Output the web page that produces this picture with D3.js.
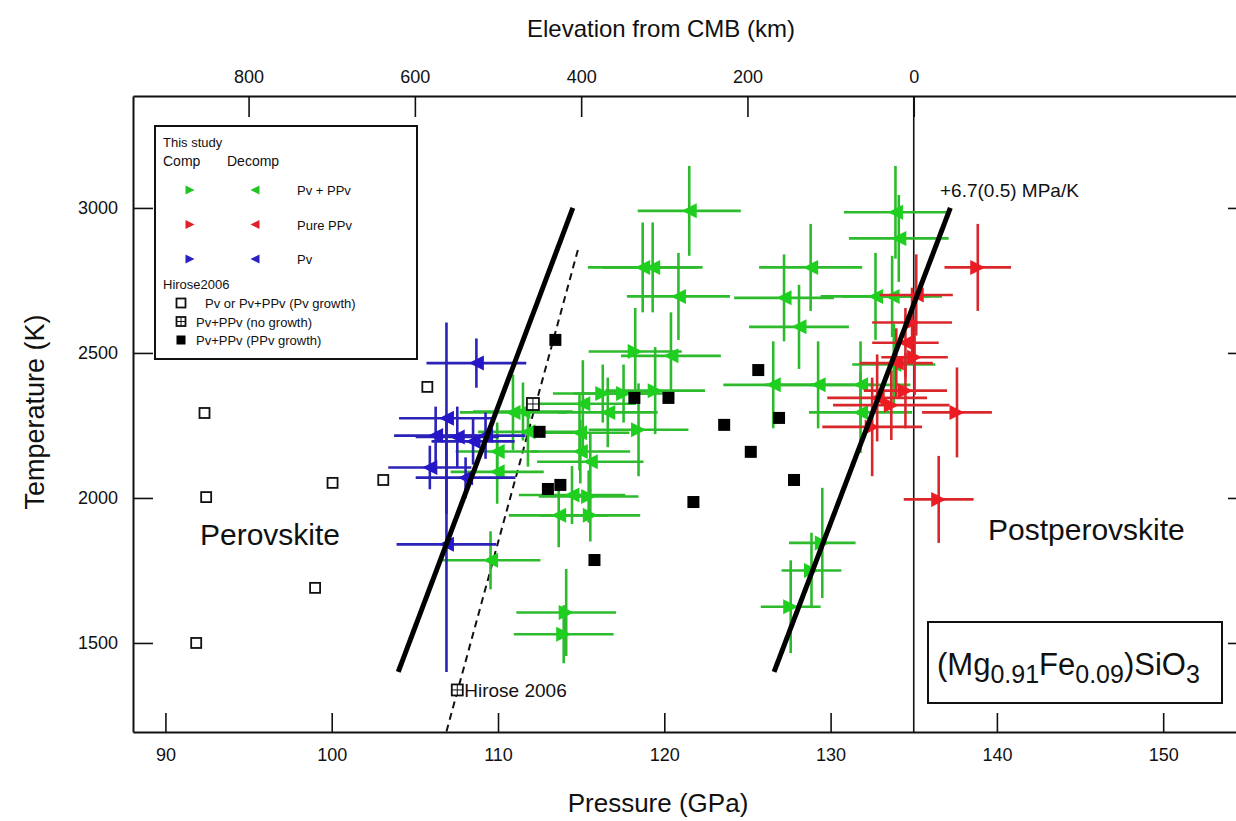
<!DOCTYPE html>
<html>
<head>
<meta charset="utf-8">
<script src="https://cdn.jsdelivr.net/npm/d3@7"></script>
<style>
  body { margin: 0; background: #fff; }
  text { font-family: "Liberation Sans", Arial, sans-serif; fill: #111; }
</style>
</head>
<body>
<div id="chart"></div>
<script>
// each row: [pressure (GPa), temperature (K), pressure error, temperature error]
var greenDecomp = [
  [121.5, 2990, 3.1, 155], [118.7, 2795, 3.3, 155], [119.3, 2795, 3.0, 155],
  [120.85, 2695, 3.1, 150], [128.8, 2795, 3.1, 150], [127.2, 2690, 3.0, 150],
  [128.1, 2590, 3.0, 145], [126.55, 2390, 3.0, 150], [129.25, 2390, 3.2, 150],
  [120.4, 2490, 3.0, 150], [133.9, 2985, 3.1, 160], [134.1, 2895, 3.0, 150],
  [132.7, 2695, 3.3, 150], [133.7, 2695, 3.0, 140], [133.8, 2460, 2.5, 140],
  [131.8, 2390, 3.0, 150], [131.8, 2295, 3.1, 140], [115.1, 2325, 3.2, 150],
  [116.6, 2295, 3.0, 120], [110.9, 2295, 3.2, 130], [111.5, 2298, 3.0, 100],
  [111.8, 2228, 3.0, 120], [114.9, 2225, 3.0, 130], [114.95, 2160, 3.0, 110],
  [115.55, 2125, 3.2, 100], [109.95, 2160, 2.5, 100], [109.95, 2090, 2.8, 110],
  [114.45, 2010, 3.2, 100], [113.65, 1940, 3.0, 110], [109.55, 1785, 3.0, 100]
];
var greenComp = [
  [118.25, 2505, 2.8, 150], [116.3, 2360, 3.0, 100], [117.55, 2360, 3.0, 100],
  [119.45, 2370, 3.0, 150], [118.45, 2235, 3.0, 160], [115.45, 2005, 3.0, 90],
  [115.55, 1940, 3.0, 90], [114.1, 1605, 3.0, 150], [113.95, 1530, 3.0, 100],
  [129.5, 1845, 2.0, 190], [128.85, 1750, 1.8, 130], [127.6, 1625, 1.8, 160]
];
var redComp = [
  [138.85, 2795, 2.0, 150], [137.6, 2295, 2.1, 155], [136.5, 1995, 2.1, 150],
  [134.9, 2605, 2.4, 120], [135.05, 2485, 2.0, 130], [134.5, 2370, 2.5, 130],
  [133.65, 2320, 3.5, 120], [132.5, 2245, 3.0, 170]
];
var redDecomp = [
  [135.15, 2700, 2.2, 140], [134.5, 2535, 2.0, 120],
  [133.95, 2465, 2.2, 120], [132.8, 2345, 3.0, 150]
];
var blueDecomp = [
  [108.7, 2465, 3.0, 85], [106.9, 2275, 2.85, 330], [106.25, 2215, 2.5, 100],
  [107.55, 2210, 2.5, 105], [108.5, 2195, 2.5, 80], [109.25, 2215, 2.4, 80],
  [105.9, 2105, 2.5, 75], [108.05, 2070, 3.0, 70], [106.9, 1840, 3.0, 440]
];

// Hirose 2006: [pressure, temperature]
var hiroseOpen = [
  [92.35, 2293], [92.45, 2003], [100.05, 2052], [103.1, 2062],
  [99.0, 1690], [91.85, 1500], [105.75, 2383]
];
var hiroseCross = [[112.1, 2324]];
var hiroseFilled = [
  [113.45, 2545], [120.25, 2345], [123.6, 2252], [125.2, 2159], [125.65, 2441],
  [126.9, 2276], [127.8, 2062], [121.75, 1986], [115.8, 1786], [113.0, 2031],
  [113.75, 2045], [112.5, 2228], [118.2, 2345]
];

// phase boundaries
var boundaryThis = [[104.0, 1400], [114.5, 3000]];
var boundaryPpv = [[126.6, 1400], [137.2, 3000]];
var boundaryHirose = [[106.9, 1195], [114.85, 2865]];
var hiroseNote = [107.55, 1338];

var pTicks = [90, 100, 110, 120, 130, 140, 150];
var elevTicks = [800, 600, 400, 200, 0];
var tTicks = [1500, 2000, 2500, 3000];

var legendRows = [
  { label: "Pv + PPv", color: "#22c322" },
  { label: "Pure PPv", color: "#e0202a" },
  { label: "Pv", color: "#2a1fc0" }
];
var hiroseRows = ["Pv or Pv+PPv (Pv growth)", "Pv+PPv (no growth)", "Pv+PPv (PPv growth)"];

var w = 1236, h = 821;
var padL = 133, padR = 1248, padT = 96, padB = 732;

var svg = d3.select("#chart").append("svg")
  .attr("width", w)
  .attr("height", h);

var x = d3.scaleLinear().domain([88.05, 155.1]).range([padL, padR]);
var y = d3.scaleLinear().domain([1193, 3386]).range([padB, padT]);
// elevation above the CMB: 20 km per GPa, zero at 135 GPa
var xe = d3.scaleLinear().domain([(135 - 88.05) * 20, (135 - 155.1) * 20]).range([padL, padR]);

svg.append("clipPath").attr("id", "clip")
  .append("rect").attr("x", padL).attr("y", padT)
  .attr("width", padR - padL).attr("height", padB - padT);

var plot = svg.append("g").attr("clip-path", "url(#clip)");

// CMB line at 135 GPa
plot.append("line")
  .attr("x1", x(135)).attr("x2", x(135))
  .attr("y1", padT).attr("y2", padB)
  .style("stroke", "#111").style("stroke-width", 1.6);

var line = d3.line()
  .x(function(d) { return x(d[0]); })
  .y(function(d) { return y(d[1]); });

plot.append("path").datum(boundaryHirose).attr("d", line)
  .style("fill", "none").style("stroke", "#111")
  .style("stroke-width", 2).style("stroke-dasharray", "7,5");

function bars(data, color) {
  var g = plot.append("g").style("stroke", color).style("stroke-width", 2.6);
  data.forEach(function(d) {
    g.append("line")
      .attr("x1", x(d[0] - d[2])).attr("x2", x(d[0] + d[2]))
      .attr("y1", y(d[1])).attr("y2", y(d[1]));
    g.append("line")
      .attr("x1", x(d[0])).attr("x2", x(d[0]))
      .attr("y1", y(d[1] - d[3])).attr("y2", y(d[1] + d[3]));
  });
}

function tri(dir, s) {
  var a = s * 0.5;
  return dir > 0
    ? "M" + (-a) + "," + (-a) + "L" + a + ",0L" + (-a) + "," + a + "Z"
    : "M" + a + "," + (-a) + "L" + (-a) + ",0L" + a + "," + a + "Z";
}

function markers(data, color, dir) {
  plot.append("g").selectAll("path")
    .data(data)
    .enter().append("path")
    .attr("transform", function(d) { return "translate(" + x(d[0]) + "," + y(d[1]) + ")"; })
    .attr("d", tri(dir, 15))
    .style("fill", color);
}

bars(greenDecomp, "#2dbb2d");
bars(greenComp, "#2dbb2d");
markers(greenDecomp, "#1fcf1f", -1);
markers(greenComp, "#1fcf1f", 1);

bars(blueDecomp, "#2b22b8");
markers(blueDecomp, "#2516c8", -1);

bars(redComp, "#d8282c");
bars(redDecomp, "#d8282c");
markers(redComp, "#ec1c24", 1);
markers(redDecomp, "#ec1c24", -1);

// thick boundaries
[boundaryThis, boundaryPpv].forEach(function(b) {
  plot.append("path").datum(b).attr("d", line)
    .style("fill", "none").style("stroke", "#000").style("stroke-width", 5);
});

function openSquare(g, cx, cy, s) {
  g.append("rect").attr("x", cx - s / 2).attr("y", cy - s / 2)
    .attr("width", s).attr("height", s)
    .style("fill", "#fff").style("stroke", "#111").style("stroke-width", 1.8);
}
function crossSquare(g, cx, cy, s) {
  openSquare(g, cx, cy, s);
  g.append("line").attr("x1", cx).attr("x2", cx).attr("y1", cy - s / 2).attr("y2", cy + s / 2)
    .style("stroke", "#111").style("stroke-width", 1);
  g.append("line").attr("x1", cx - s / 2).attr("x2", cx + s / 2).attr("y1", cy).attr("y2", cy)
    .style("stroke", "#111").style("stroke-width", 1);
}

var hg = plot.append("g");
hiroseOpen.forEach(function(d) { openSquare(hg, x(d[0]), y(d[1]), 10); });
hiroseCross.forEach(function(d) { crossSquare(hg, x(d[0]), y(d[1]), 12); });
hg.selectAll("rect.filled")
  .data(hiroseFilled)
  .enter().append("rect")
  .attr("class", "filled")
  .attr("x", function(d) { return x(d[0]) - 6; })
  .attr("y", function(d) { return y(d[1]) - 6; })
  .attr("width", 12).attr("height", 12)
  .style("fill", "#000");

crossSquare(hg, x(hiroseNote[0]), y(hiroseNote[1]), 11);
plot.append("text")
  .attr("x", x(hiroseNote[0]) + 7).attr("y", y(hiroseNote[1]) + 7)
  .style("font-size", "19px")
  .text("Hirose 2006");

// axes
var xaxis = d3.axisBottom(x).tickValues(pTicks).tickSizeInner(-19).tickSizeOuter(0).tickPadding(16);
var topaxis = d3.axisTop(xe).tickValues(elevTicks).tickSizeInner(-21).tickSizeOuter(0).tickPadding(13);
var yaxis = d3.axisLeft(y).tickValues(tTicks).tickFormat(d3.format("d"))
  .tickSizeInner(-20).tickSizeOuter(0).tickPadding(15);
var yaxisR = d3.axisRight(y).tickValues(tTicks).tickSizeInner(-20).tickSizeOuter(0).tickFormat("");

function styleAxis(g, fs) {
  g.select(".domain").style("stroke", "#111").style("stroke-width", 2);
  g.selectAll(".tick line").style("stroke", "#111").style("stroke-width", 1.6);
  g.selectAll(".tick text").style("font-size", fs).style("fill", "#111")
    .style("font-family", "'Liberation Sans', Arial, sans-serif");
}

svg.append("g").attr("transform", "translate(0," + padB + ")").call(xaxis).call(styleAxis, "18px");
svg.append("g").attr("transform", "translate(0," + padT + ")").call(topaxis).call(styleAxis, "18px");
svg.append("g").attr("transform", "translate(" + padL + ",0)").call(yaxis).call(styleAxis, "18px");
svg.append("g").attr("transform", "translate(" + padR + ",0)").call(yaxisR).call(styleAxis, "18px");

// titles
svg.append("text").attr("x", 658).attr("y", 812).attr("text-anchor", "middle")
  .style("font-size", "26px").text("Pressure (GPa)");
svg.append("text").attr("x", 661).attr("y", 37).attr("text-anchor", "middle")
  .style("font-size", "24px").text("Elevation from CMB (km)");
svg.append("text").attr("transform", "translate(44,412) rotate(-90)").attr("text-anchor", "middle")
  .style("font-size", "27px").text("Temperature (K)");

svg.append("text").attr("x", 200).attr("y", 545).style("font-size", "30px").text("Perovskite");
svg.append("text").attr("x", 988).attr("y", 540).style("font-size", "30px").text("Postperovskite");
svg.append("text").attr("x", 940).attr("y", 197).style("font-size", "19px").text("+6.7(0.5) MPa/K");

// composition box
svg.append("rect").attr("x", 928).attr("y", 622).attr("width", 294).attr("height", 81)
  .style("fill", "#fff").style("stroke", "#111").style("stroke-width", 2);
var comp = svg.append("text").attr("x", 937).attr("y", 675).style("font-size", "31px");
comp.append("tspan").text("(Mg");
comp.append("tspan").attr("dy", 8).style("font-size", "25px").text("0.91");
comp.append("tspan").attr("dy", -8).text("Fe");
comp.append("tspan").attr("dy", 8).style("font-size", "25px").text("0.09");
comp.append("tspan").attr("dy", -8).text(")SiO");
comp.append("tspan").attr("dy", 8).style("font-size", "25px").text("3");

// legend
var lg = svg.append("g");
lg.append("rect").attr("x", 155).attr("y", 126).attr("width", 262).attr("height", 233)
  .style("fill", "#fff").style("stroke", "#111").style("stroke-width", 2);
lg.append("text").attr("x", 163).attr("y", 147).style("font-size", "13px").text("This study");
lg.append("text").attr("x", 163).attr("y", 166).style("font-size", "14px").text("Comp");
lg.append("text").attr("x", 227).attr("y", 166).style("font-size", "14px").text("Decomp");
legendRows.forEach(function(r, i) {
  var ry = 190 + i * 34.5;
  lg.append("path").attr("transform", "translate(190," + ry + ")").attr("d", tri(1, 9)).style("fill", r.color);
  lg.append("path").attr("transform", "translate(255," + ry + ")").attr("d", tri(-1, 9)).style("fill", r.color);
  lg.append("text").attr("x", 297).attr("y", ry + 5).style("font-size", "13px").text(r.label);
});
lg.append("text").attr("x", 163).attr("y", 289).style("font-size", "13px").text("Hirose2006");
hiroseRows.forEach(function(label, i) {
  var ry = 303 + i * 18.5;
  if (i === 0) openSquare(lg, 181, ry, 9);
  else if (i === 1) crossSquare(lg, 181, ry, 9);
  else lg.append("rect").attr("x", 176.5).attr("y", ry - 4.5).attr("width", 9).attr("height", 9).style("fill", "#000");
  lg.append("text").attr("x", i === 0 ? 205 : 196).attr("y", ry + 5).style("font-size", "13px").text(label);
});
</script>
</body>
</html>
